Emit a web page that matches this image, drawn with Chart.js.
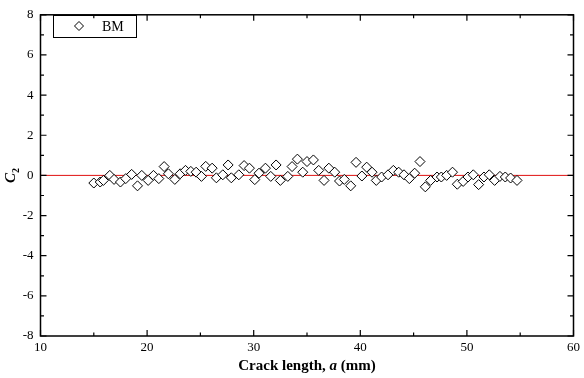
<!DOCTYPE html>
<html>
<head>
<meta charset="utf-8">
<script src="https://cdn.jsdelivr.net/npm/chart.js@4/dist/chart.umd.min.js"></script>
<style>
  html, body { margin: 0; padding: 0; background: #fff; }
  #wrap { width: 584px; height: 378px; }
</style>
</head>
<body>
<div id="wrap"><canvas id="c2Chart" width="584" height="378"></canvas></div>
<script>
// crack length a (mm)
const crackLength = [
    15.0, 15.6, 15.9, 16.5, 16.9, 17.5, 18.0, 18.55, 19.1, 19.5,
    20.1, 20.6, 21.1, 21.6, 22.0, 22.6, 23.1, 23.6, 24.1, 24.6,
    25.1, 25.5, 26.1, 26.5, 27.1, 27.6, 27.9, 28.6, 29.1, 29.6,
    30.1, 30.5, 31.1, 31.6, 32.1, 32.5, 33.2, 33.6, 34.1, 34.6,
    35.0, 35.6, 36.1, 36.6, 37.05, 37.6, 38.05, 38.5, 39.1, 39.6,
    40.15, 40.6, 41.1, 41.5, 42.0, 42.6, 43.1, 43.6, 44.1, 44.6,
    45.1, 45.6, 46.1, 46.6, 47.2, 47.6, 48.1, 48.65, 49.1, 49.65,
    50.1, 50.6, 51.1, 51.6, 52.1, 52.6, 53.1, 53.6, 54.1, 54.7
];
// C2 values, BM
const c2Values = [
    -0.38, -0.33, -0.25, 0.0, -0.2, -0.33, -0.16, 0.05, -0.52, 0.0,
    -0.25, 0.0, -0.16, 0.44, 0.08, -0.2, 0.08, 0.25, 0.2, 0.16,
    -0.05, 0.45, 0.36, -0.12, 0.03, 0.52, -0.12, 0.03, 0.49, 0.36,
    -0.21, 0.11, 0.36, -0.05, 0.52, -0.25, -0.05, 0.44, 0.81, 0.16,
    0.69, 0.77, 0.25, -0.25, 0.36, 0.16, -0.28, -0.2, -0.52, 0.65,
    -0.03, 0.41, 0.16, -0.25, -0.08, 0.03, 0.25, 0.16, 0.03, -0.16,
    0.11, 0.69, -0.57, -0.25, -0.08, -0.08, 0.0, 0.16, -0.44, -0.3,
    -0.08, 0.03, -0.46, -0.08, 0.03, -0.25, -0.05, -0.08, -0.13, -0.25
];
const xTicks = [10, 20, 30, 40, 50, 60];
const yTicks = [-8, -6, -4, -2, 0, 2, 4, 6, 8];
const zeroLine = [{ x: 10, y: 0 }, { x: 60, y: 0 }];

const serif = "'Liberation Serif', 'Times New Roman', serif";

const bmPoints = crackLength.map((a, i) => ({ x: a, y: c2Values[i] }));

// frame, inward ticks, legend box and axis titles
const decor = {
    id: "decor",
    afterDraw(chart) {
        const ctx = chart.ctx;
        const area = chart.chartArea;
        const xs = chart.scales.x;
        const ys = chart.scales.y;
        ctx.save();
        ctx.strokeStyle = "#000";
        ctx.lineWidth = 1.5;
        ctx.strokeRect(area.left, area.top, area.right - area.left, area.bottom - area.top);

        ctx.lineWidth = 1.2;
        ctx.beginPath();
        for (let v = 10; v <= 60; v += 5) {
            const px = xs.getPixelForValue(v);
            const len = v % 10 === 0 ? 6 : 3.5;
            ctx.moveTo(px, area.bottom);
            ctx.lineTo(px, area.bottom - len);
            ctx.moveTo(px, area.top);
            ctx.lineTo(px, area.top + len);
        }
        for (let v = -8; v <= 8; v += 1) {
            const py = ys.getPixelForValue(v);
            const len = v % 2 === 0 ? 6 : 3.5;
            ctx.moveTo(area.left, py);
            ctx.lineTo(area.left + len, py);
            ctx.moveTo(area.right, py);
            ctx.lineTo(area.right - len, py);
        }
        ctx.stroke();

        // legend
        ctx.lineWidth = 1;
        ctx.strokeRect(53.5, 15.5, 83, 22);
        ctx.beginPath();
        ctx.moveTo(79, 21.5);
        ctx.lineTo(83.5, 26);
        ctx.lineTo(79, 30.5);
        ctx.lineTo(74.5, 26);
        ctx.closePath();
        ctx.fillStyle = "#fff";
        ctx.fill();
        ctx.stroke();
        ctx.fillStyle = "#000";
        ctx.font = "14px " + serif;
        ctx.textBaseline = "middle";
        ctx.textAlign = "left";
        ctx.fillText("BM", 102, 27);

        // x title
        const cx = (area.left + area.right) / 2;
        ctx.textBaseline = "alphabetic";
        const p1 = "Crack length, ";
        const p2 = "a";
        const p3 = " (mm)";
        ctx.font = "bold 15px " + serif;
        const w1 = ctx.measureText(p1).width;
        const w3 = ctx.measureText(p3).width;
        ctx.font = "italic bold 15px " + serif;
        const w2 = ctx.measureText(p2).width;
        let x0 = cx - (w1 + w2 + w3) / 2;
        const yb = 370;
        ctx.font = "bold 15px " + serif;
        ctx.fillText(p1, x0, yb);
        ctx.font = "italic bold 15px " + serif;
        ctx.fillText(p2, x0 + w1, yb);
        ctx.font = "bold 15px " + serif;
        ctx.fillText(p3, x0 + w1 + w2, yb);

        // y title C2
        ctx.translate(15, (area.top + area.bottom) / 2);
        ctx.rotate(-Math.PI / 2);
        ctx.font = "italic bold 15px " + serif;
        const wc = ctx.measureText("C").width;
        ctx.font = "bold 10px " + serif;
        const ws = ctx.measureText("2").width;
        const sx = -(wc + ws) / 2;
        ctx.font = "italic bold 15px " + serif;
        ctx.fillText("C", sx, 0);
        ctx.font = "bold 10px " + serif;
        ctx.fillText("2", sx + wc, 4);
        ctx.restore();
    }
};

new Chart(document.getElementById("c2Chart"), {
    type: "scatter",
    data: {
        datasets: [
            {
                type: "line",
                label: "zero",
                data: zeroLine,
                borderColor: "#e01010",
                borderWidth: 1,
                pointRadius: 0,
                order: 2
            },
            {
                label: "BM",
                data: bmPoints,
                pointStyle: "rectRot",
                pointRadius: 5,
                pointBackgroundColor: "#fff",
                pointBorderColor: "#000",
                pointBorderWidth: 1,
                order: 1
            }
        ]
    },
    options: {
        responsive: false,
        animation: false,
        layout: { padding: { left: 0, top: 11, right: 7, bottom: 0 } },
        plugins: {
            legend: { display: false },
            tooltip: { enabled: false }
        },
        scales: {
            x: {
                type: "linear",
                min: 10,
                max: 60,
                afterBuildTicks: s => { s.ticks = xTicks.map(v => ({ value: v })); },
                afterFit: s => { s.height = 42; },
                grid: { display: false, drawTicks: false },
                border: { display: false },
                ticks: { padding: 4, color: "#000", font: { family: serif, size: 13 } }
            },
            y: {
                type: "linear",
                min: -8,
                max: 8,
                afterBuildTicks: s => { s.ticks = yTicks.map(v => ({ value: v })); },
                afterFit: s => { s.width = 40.5; },
                grid: { display: false, drawTicks: false },
                border: { display: false },
                ticks: { padding: 7, color: "#000", font: { family: serif, size: 13 } }
            }
        }
    },
    plugins: [decor]
});
</script>
</body>
</html>
